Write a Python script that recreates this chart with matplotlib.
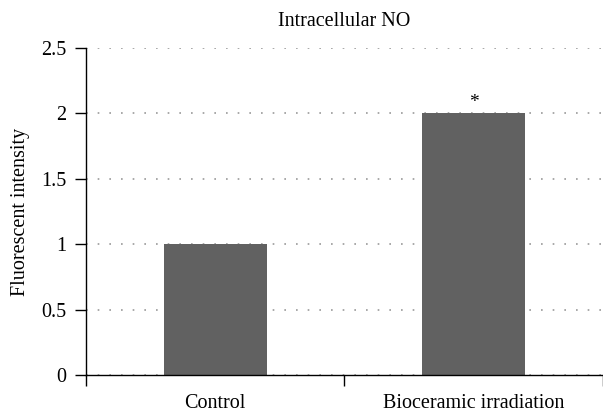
import numpy as np
import matplotlib.pyplot as plt

plt.rcParams['font.family'] = ['Liberation Serif', 'DejaVu Serif']

# Data
categories = ['Control', 'Bioceramic irradiation']
values = [1.0, 2.0]
marks = ['', '*']
yticks = [0, 0.5, 1, 1.5, 2, 2.5]
ytick_labels = ['0', '0.5', '1', '1.5', '2', '2.5']

fig = plt.figure(figsize=(6.03, 4.13), dpi=100)
ax = fig.add_axes([0.1426, 0.092, 0.8574, 0.7918])

x = np.arange(len(categories))
ax.bar(x, values, width=0.4, color='#616161', zorder=3)

for xi, v, m in zip(x, values, marks):
    if m:
        ax.text(xi, v + 0.02, m, ha='center', va='bottom', fontsize=14, zorder=4)

ax.set_xlim(-0.5, 1.5)
ax.set_ylim(0, 2.5)
ax.set_yticks(yticks)
ax.set_yticklabels(ytick_labels, fontsize=14.5)

# category labels centred under the bars, ticks at bin edges
ax.set_xticks(x)
ax.set_xticklabels(categories, fontsize=14.5)
ax.tick_params(axis='x', which='major', length=0, pad=14)
ax.set_xticks([-0.5, 0.5, 1.5], minor=True)
ax.tick_params(axis='x', which='minor', length=8, width=1.0, direction='out')
ax.tick_params(axis='y', length=8, width=1.0, direction='out', pad=6)

ax.yaxis.grid(True, color='#999999', linestyle=(0, (1, 6)), linewidth=1.2, zorder=0)

ax.spines['top'].set_visible(False)
ax.spines['right'].set_visible(False)
ax.spines['left'].set_linewidth(1.0)
ax.spines['bottom'].set_linewidth(1.0)
ax.spines['bottom'].set_zorder(5)

ax.set_ylabel('Fluorescent intensity', fontsize=14.5, labelpad=8)
ax.set_title('Intracellular NO', fontsize=14.5, pad=16)

fig.savefig('out.png', dpi=100)
